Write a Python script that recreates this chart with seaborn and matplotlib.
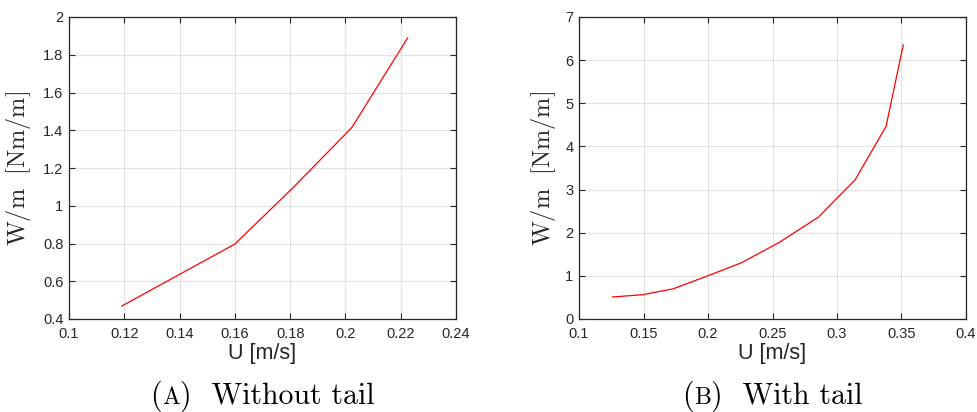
import matplotlib
matplotlib.use("Agg")
import matplotlib.pyplot as plt
import seaborn as sns
import pandas as pd

# Work per unit length versus flow speed
u_no_tail = [0.119, 0.160, 0.181, 0.2023, 0.2225]
w_no_tail = [0.468, 0.797, 1.095, 1.414, 1.889]

u_tail = [0.1258, 0.1494, 0.173, 0.1995, 0.226, 0.2555, 0.2855, 0.314, 0.338, 0.3514]
w_tail = [0.51, 0.563, 0.70, 0.997, 1.305, 1.78, 2.359, 3.225, 4.462, 6.357]

xticks_a = [0.1, 0.12, 0.14, 0.16, 0.18, 0.2, 0.22, 0.24]
yticks_a = [0.4, 0.6, 0.8, 1, 1.2, 1.4, 1.6, 1.8, 2]
xticks_b = [0.1, 0.15, 0.2, 0.25, 0.3, 0.35, 0.4]
yticks_b = [0, 1, 2, 3, 4, 5, 6, 7]

x_label = "U [m/s]"
y_label = r"$\mathrm{W/m\ \ [Nm/m]}$"
captions = [("A", "Without tail"), ("B", "With tail")]

sns.set_theme(style="whitegrid")
plt.rcParams["font.family"] = ["Liberation Sans", "DejaVu Sans"]
plt.rcParams["mathtext.fontset"] = "cm"

W, H = 978, 412
fig = plt.figure(figsize=(W / 100, H / 100), dpi=100)
fig.patch.set_facecolor("white")

ax_w = 387 / W
ax_h = 302 / H
ax_b = 1 - 319 / H
axes = [fig.add_axes([69 / W, ax_b, ax_w, ax_h]),
        fig.add_axes([579 / W, ax_b, ax_w, ax_h])]

panels = [
    (u_no_tail, w_no_tail, xticks_a, yticks_a, -0.093),
    (u_tail, w_tail, xticks_b, yticks_b, -0.054),
]

dark = "#262626"
for ax, (u, w, xt, yt, ylab_x) in zip(axes, panels):
    df = pd.DataFrame({"U": u, "W": w})
    sns.lineplot(data=df, x="U", y="W", ax=ax, color="red", linewidth=0.9,
                 sort=False)
    ax.set_xlim(xt[0], xt[-1])
    ax.set_ylim(yt[0], yt[-1])
    ax.set_xticks(xt)
    ax.set_yticks(yt)
    ax.set_xticklabels([f"{v:g}" for v in xt])
    ax.set_yticklabels([f"{v:g}" for v in yt])
    ax.set_facecolor("white")
    ax.grid(True, color="#e3e3e3", linewidth=0.9)
    for sp in ax.spines.values():
        sp.set_color(dark)
        sp.set_linewidth(0.9)
        sp.set_visible(True)
    ax.tick_params(axis="both", which="both", direction="in", length=4,
                   width=0.8, color=dark, labelcolor=dark, labelsize=10.5,
                   top=True, right=True, bottom=True, left=True)
    ax.tick_params(axis="x", pad=6)
    ax.tick_params(axis="y", pad=4)
    ax.set_xlabel(x_label, fontsize=15.5, color=dark)
    ax.xaxis.set_label_coords(0.5, -0.078)
    ax.set_ylabel(y_label, fontsize=17.5, color=dark)
    ax.yaxis.set_label_coords(ylab_x, 0.5)

# Subfigure captions with a small-caps panel letter
cap_font = "cmr10"
cap_size = 21.5
base_y = 1 - 404 / H
fig.canvas.draw()
renderer = fig.canvas.get_renderer()
for ax, (letter, rest) in zip(axes, captions):
    pos = ax.get_position()
    cx = pos.x0 + pos.width / 2
    pieces = [("(", cap_size), (letter, cap_size * 0.8), (")  " + rest, cap_size)]
    texts = []
    for s, sz in pieces:
        t = fig.text(0, base_y, s, fontsize=sz, family=cap_font, va="baseline",
                     ha="left", color="black")
        texts.append(t)
    widths = [t.get_window_extent(renderer).width / W for t in texts]
    x = cx - sum(widths) / 2
    for t, wd in zip(texts, widths):
        t.set_x(x)
        x += wd

fig.savefig("out.png", dpi=100, facecolor="white")
